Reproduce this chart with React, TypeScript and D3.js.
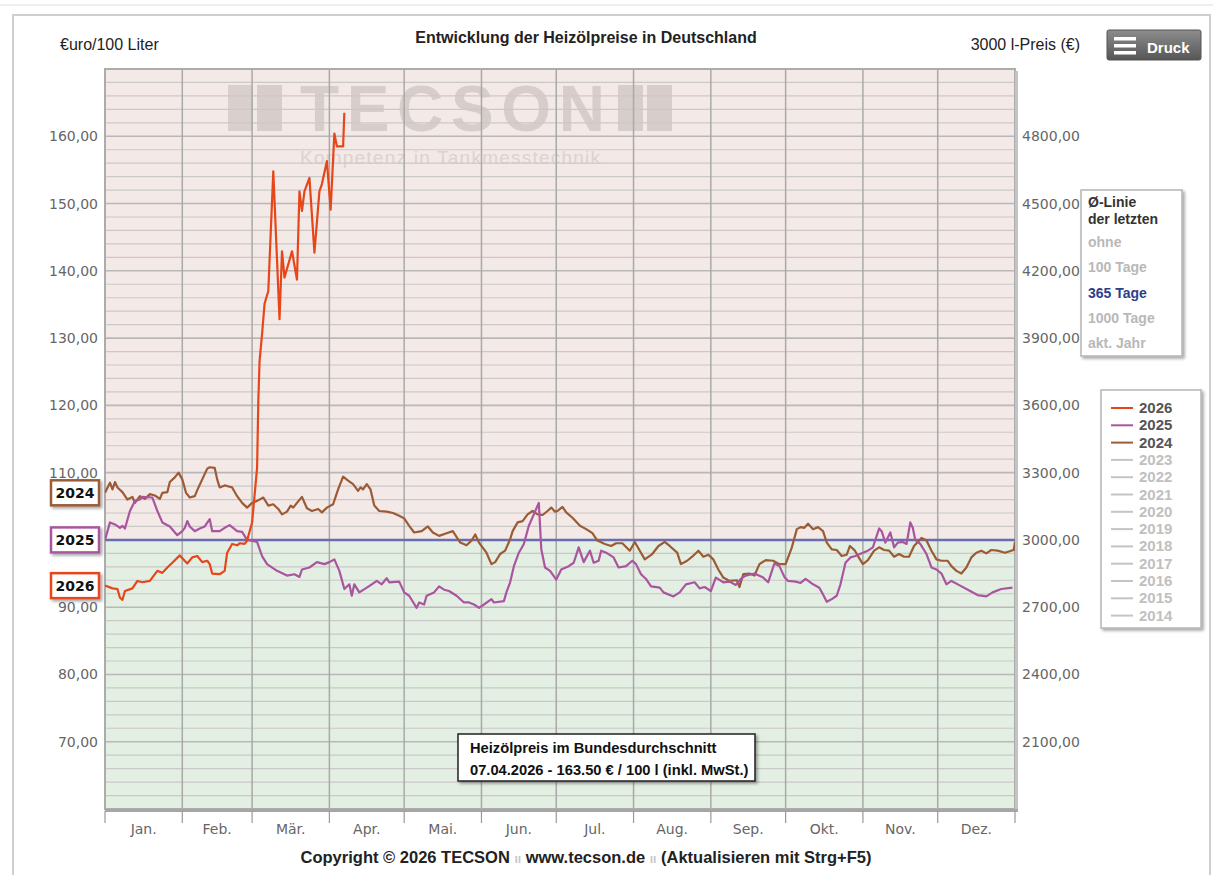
import React from "react";
import * as d3 from "d3";

// month labels for the x axis
const months = ["Jan.", "Feb.", "Mär.", "Apr.", "Mai.", "Jun.", "Jul.", "Aug.", "Sep.", "Okt.", "Nov.", "Dez."];

// left axis (€/100 l) and right axis (3000 l price); 100,00 sits under the 2025 box
const leftTicks = [70, 80, 90, 110, 120, 130, 140, 150, 160];
const rightTicks = [2100, 2400, 2700, 3000, 3300, 3600, 3900, 4200, 4500, 4800];

const avgOptions = ["ohne", "100 Tage", "365 Tage", "1000 Tage", "akt. Jahr"];
const activeAvg = "365 Tage";
const avgValue = 100;

const legendYears = ["2026", "2025", "2024", "2023", "2022", "2021", "2020", "2019", "2018", "2017", "2016", "2015", "2014"];

// [day of year, €/100 l]
const series2026: [number, number][] = [
  [0, 93.2], [3, 92.8], [5, 92.7], [6, 91.4], [7, 91.1], [8, 92.4], [11, 92.8], [13, 93.9], [15, 93.7],
  [18, 93.9], [20, 94.9], [21, 95.4], [23, 95.1], [25, 95.9], [27, 96.6], [30, 97.7], [33, 96.5],
  [35, 97.4], [37, 97.6], [39, 96.7], [41, 96.9], [42, 96.4], [43, 95.0], [46, 94.9], [48, 95.4],
  [49, 98.1], [51, 99.4], [53, 99.2], [54, 99.5], [56, 99.4], [57, 99.9], [59, 102.6], [61, 110.7],
  [61.5, 120.7], [62, 126.6], [63, 130.6], [64, 135.1], [65.5, 137.0], [67.5, 154.8], [70, 132.8],
  [71, 142.9], [72, 139.0], [75, 142.9], [77, 138.7], [78, 151.8], [79, 148.9], [80, 151.8],
  [82, 153.8], [84, 142.7], [86, 151.8], [87, 152.9], [89, 156.3], [90.5, 149.1], [92, 160.4],
  [93, 158.5], [95.5, 158.5], [96, 163.5],
];

const series2025: [number, number][] = [
  [0, 100.0], [2, 102.6], [4, 102.3], [6, 101.8], [7, 102.1], [8, 101.7], [10, 104.3], [12, 105.8],
  [14, 106.0], [15, 106.4], [19, 106.3], [21, 104.3], [23, 102.6], [26, 102.0], [29, 100.7], [31, 101.3],
  [32, 101.8], [33, 102.8], [34, 102.0], [36, 101.3], [38, 101.7], [40, 102.0], [42, 103.1], [43, 101.3],
  [46, 101.3], [48, 101.8], [50, 102.2], [53, 101.3], [55, 101.2], [57, 100.0], [61, 99.7], [63, 97.6],
  [65, 96.4], [69, 95.4], [73, 94.7], [76, 94.9], [78, 94.5], [79, 95.6], [82, 95.9], [85, 96.7],
  [88, 96.4], [90, 96.7], [92, 97.1], [94, 95.4], [96, 92.7], [98, 93.4], [99, 91.7], [100, 93.4],
  [102, 92.2], [105, 92.9], [107, 93.4], [109, 93.9], [111, 93.4], [113, 94.3], [114, 93.7], [118, 93.8],
  [120, 92.2], [122, 91.7], [125, 89.9], [126, 90.7], [128, 90.4], [129, 91.7], [132, 92.2], [134, 93.1],
  [136, 92.6], [138, 92.4], [141, 91.7], [144, 90.7], [146, 90.7], [148, 90.4], [150, 89.9], [152, 90.4],
  [155, 91.2], [156, 90.7], [160, 90.9], [161, 92.2], [162.5, 93.7], [164, 96.1], [166, 98.1], [168, 99.4],
  [170, 102.1], [172, 103.8], [174, 105.5], [175, 98.6], [176.5, 95.9], [178.5, 95.4], [181, 94.1],
  [183, 95.6], [186, 96.1], [188, 96.6], [190, 98.9], [192, 96.7], [194.5, 98.4], [196, 96.6], [198, 96.9],
  [199, 98.4], [201, 98.1], [204, 97.4], [206, 95.9], [209, 96.1], [211.5, 96.9], [213, 96.4], [215, 94.9],
  [217, 94.2], [219, 93.1], [222.5, 92.9], [224, 92.2], [228, 91.6], [230.5, 92.2], [233, 93.4],
  [236.5, 93.7], [238.5, 92.8], [240.5, 93.0], [243, 92.4], [245, 94.4], [248, 93.7], [250.5, 93.8],
  [253, 93.3], [255, 94.2], [257, 94.7], [260.5, 95.0], [264, 94.4], [266, 93.7], [268.5, 96.5],
  [270.5, 96.1], [272.5, 94.5], [274, 93.9], [277, 93.8], [279, 93.6], [281, 94.2], [284, 93.4],
  [286.5, 92.9], [288, 91.9], [289.5, 90.8], [291.5, 91.2], [293.5, 91.7], [295, 93.4], [297, 96.6],
  [299, 97.4], [301, 97.6], [303.5, 98.0], [306, 98.4], [308, 98.9], [310.5, 101.7], [311.5, 101.3],
  [313, 99.6], [315, 101.1], [316.5, 98.9], [318, 99.6], [320, 99.7], [321.5, 99.4], [323, 102.6],
  [324, 101.8], [325, 100.0], [327, 99.4], [329.5, 97.9], [331.5, 95.9], [333.5, 95.6], [335.5, 95.0],
  [337.5, 93.4], [339.5, 93.9], [343, 93.2], [347, 92.4], [350, 91.8], [353.5, 91.6], [356, 92.2],
  [359.5, 92.7], [364, 92.9],
];

const series2024: [number, number][] = [
  [0, 107.0], [2, 108.5], [3, 107.5], [4, 108.6], [5, 107.8], [7, 107.1], [9, 106.0], [11, 106.4],
  [12, 105.5], [14, 106.5], [16, 106.1], [18, 106.8], [20, 106.6], [22, 106.1], [23, 107.0], [25, 107.1],
  [26, 108.6], [28, 109.3], [29.5, 110.0], [31, 109.0], [32.5, 107.0], [34, 106.3], [36, 106.5],
  [37.5, 107.8], [39, 109.0], [41, 110.6], [42, 110.8], [44, 110.7], [45, 109.0], [46, 107.8], [48, 108.1],
  [50, 107.9], [51, 107.8], [53, 106.5], [55, 105.5], [57, 104.8], [59, 105.5], [61, 105.8], [63.5, 106.3],
  [65.5, 105.1], [67.5, 105.3], [69.5, 104.6], [71, 103.8], [73, 104.2], [74.5, 105.1], [75.5, 104.8],
  [77, 105.5], [79, 106.4], [81, 104.7], [83, 104.3], [85.5, 104.6], [87, 104.1], [89, 104.8],
  [91.5, 105.3], [93.5, 107.5], [95.5, 109.4], [97.5, 108.8], [99.5, 108.3], [101.5, 107.3],
  [102.5, 107.8], [103.5, 107.5], [105, 108.3], [106.5, 107.5], [108, 105.1], [110, 104.3], [113, 104.2],
  [115.5, 104.0], [118, 103.6], [120, 103.2], [122, 102.1], [124, 101.1], [127, 101.3], [129.5, 102.0],
  [131.5, 101.1], [134, 100.6], [137, 101.0], [139.5, 101.3], [142.5, 99.6], [145, 99.2], [147, 99.9],
  [148.5, 100.8], [150, 99.6], [153, 98.1], [155, 96.4], [156.5, 96.7], [158.5, 97.9], [160.5, 98.4],
  [162.5, 100.1], [163.5, 101.3], [165.5, 102.6], [167.5, 102.8], [169.5, 103.8], [171.5, 104.3],
  [173.5, 103.8], [175.5, 103.7], [177.5, 104.3], [179, 104.8], [180.5, 104.2], [181.5, 104.3],
  [183.5, 104.9], [185, 104.1], [187.5, 103.3], [190.5, 102.1], [193, 101.6], [195.5, 101.0],
  [197.5, 99.9], [200.5, 99.4], [203, 99.1], [205, 99.5], [207.5, 99.5], [210.5, 98.4], [212.5, 99.7],
  [214.5, 98.4], [216.5, 97.1], [219.5, 97.9], [222, 99.1], [224.5, 99.7], [226.5, 99.1], [229.5, 98.1],
  [231, 96.4], [233.5, 96.9], [235.5, 97.5], [238, 98.4], [240, 97.5], [242, 97.8], [244, 97.1],
  [246, 95.6], [248, 94.4], [250.5, 93.9], [253.5, 94.0], [254.5, 93.0], [256, 94.9], [258.5, 95.0],
  [260.5, 94.7], [262.5, 96.4], [265, 97.0], [268, 96.9], [270.5, 96.4], [273, 96.4], [275.5, 98.9],
  [277.5, 101.6], [279, 101.9], [280.5, 101.8], [282, 102.4], [284, 101.6], [286, 101.9], [288, 101.3],
  [289.5, 99.6], [291.5, 98.6], [293.5, 98.5], [295.5, 97.6], [297.5, 97.8], [298.8, 99.1], [300.8, 98.4],
  [302, 97.6], [304, 96.4], [306, 97.0], [308.5, 98.4], [310.5, 98.9], [312.5, 98.5], [314.5, 98.4],
  [316.5, 97.5], [318.5, 97.9], [320.5, 97.5], [322.5, 97.5], [324.5, 99.1], [327.5, 100.3], [329.5, 99.9],
  [331.5, 98.4], [333.5, 97.1], [335.5, 96.9], [338, 96.9], [339.5, 96.1], [341.5, 95.4], [343.5, 95.0],
  [345.5, 95.9], [347.5, 97.4], [349.5, 98.1], [351.5, 98.4], [353.5, 98.0], [355.5, 98.5],
  [358, 98.4], [361, 98.1], [363.5, 98.4], [364.5, 98.5], [365, 99.7],
];

const lines = [
  { year: "2024", data: series2024, color: "#9c5b36" },
  { year: "2025", data: series2025, color: "#a9559f" },
  { year: "2026", data: series2026, color: "#e6461a" },
];

const legendColors: Record<string, string> = { "2026": "#e6461a", "2025": "#a9559f", "2024": "#9c5b36" };

const W = 1213;
const H = 875;
const plot = { left: 105, right: 1015, top: 69, bottom: 809 };
const sans = "'Liberation Sans', Arial, sans-serif";
const tickFont = "'DejaVu Sans', Verdana, sans-serif";

const start = new Date(Date.UTC(2026, 0, 1));
const end = new Date(Date.UTC(2027, 0, 1));

export default function App() {
  const x = d3.scaleUtc().domain([start, end]).range([plot.left, plot.right]);
  const y = d3.scaleLinear().domain([60, 170]).range([plot.bottom, plot.top]);
  const yR = d3.scaleLinear().domain([1800, 5100]).range([plot.bottom, plot.top]);

  const monthStarts = d3.utcMonth.range(start, end);
  const bounds = [...monthStarts, end];
  const minor = d3.range(62, 170, 2).filter(v => v % 10 !== 0);
  const major = d3.range(70, 170, 10);

  const line = d3.line<[number, number]>()
    .x(d => x(d3.utcHour.offset(start, d[0] * 24)))
    .y(d => y(d[1]));

  const fmt = (v: number) => v.toFixed(2).replace(".", ",");

  return (
    <div style={{ position: "absolute", left: 0, top: 0 }}>
      <svg width={W} height={H} style={{ display: "block", background: "#fff" }}>
        <defs>
          <filter id="shadow" x="-20%" y="-20%" width="150%" height="160%">
            <feDropShadow dx="2" dy="2" stdDeviation="1.5" floodColor="#000" floodOpacity="0.35" />
          </filter>
          <linearGradient id="btn" x1="0" y1="0" x2="0" y2="1">
            <stop offset="0" stopColor="#8d8d8d" />
            <stop offset="1" stopColor="#565656" />
          </linearGradient>
          <clipPath id="plotClip">
            <rect x={plot.left} y={plot.top} width={plot.right - plot.left} height={plot.bottom - plot.top} />
          </clipPath>
        </defs>

        {/* outer frame */}
        <line x1={0} x2={W} y1={5} y2={5} stroke="#eeeeee" strokeWidth={2} />
        <path d={`M13,${H} V15 H1210 V${H}`} fill="none" stroke="#cfcfcf" strokeWidth={2} />

        {/* headings */}
        <text x={60} y={50} fontFamily={sans} fontSize={16} fill="#222">€uro/100 Liter</text>
        <text x={586} y={43} textAnchor="middle" fontFamily={sans} fontSize={16} fontWeight="bold" fill="#222">
          Entwicklung der Heizölpreise in Deutschland
        </text>
        <text x={1080} y={50} textAnchor="end" fontFamily={sans} fontSize={16} fill="#222">3000 l-Preis (€)</text>

        {/* Druck button */}
        <g>
          <rect x={1107} y={30} width={94} height={30} rx={2} fill="url(#btn)" stroke="#555" />
          {[37, 44, 51].map(v => (
            <rect key={v} x={1114} y={v} width={22} height={3.5} fill="#fff" />
          ))}
          <text x={1147} y={53} fontFamily={sans} fontSize={15} fontWeight="bold" fill="#fff">Druck</text>
        </g>

        {/* plot background */}
        <rect x={plot.left} y={plot.top} width={plot.right - plot.left} height={y(avgValue) - plot.top} fill="#f3e9e7" />
        <rect x={plot.left} y={y(avgValue)} width={plot.right - plot.left} height={plot.bottom - y(avgValue)} fill="#e3efe2" />

        {/* watermark */}
        <g fill="#d3cac8" opacity={0.85}>
          <rect x={228} y={85} width={25} height={46} />
          <rect x={257} y={85} width={25} height={46} />
          <rect x={618} y={85} width={25} height={46} />
          <rect x={647} y={85} width={25} height={46} />
          <text x={300} y={131} fontFamily={sans} fontWeight="bold" fontSize={64} textLength={305} lengthAdjust="spacing">TECSON</text>
        </g>
        <text x={300} y={164} fontFamily={sans} fontSize={19} fill="#ddd2d0" textLength={300} lengthAdjust="spacing">
          Kompetenz in Tankmesstechnik
        </text>

        {/* grid */}
        {minor.map(v => (
          <line key={"m" + v} x1={plot.left} x2={plot.right} y1={y(v)} y2={y(v)} stroke="#cbc8c8" strokeWidth={1.2} />
        ))}
        {major.map(v => (
          <line key={"M" + v} x1={plot.left} x2={plot.right} y1={y(v)} y2={y(v)} stroke="#b9b7b7" strokeWidth={1.6} />
        ))}
        {monthStarts.slice(1).map(d => (
          <line key={"v" + d.getTime()} x1={x(d)} x2={x(d)} y1={plot.top} y2={plot.bottom} stroke="#a9a9a9" strokeWidth={1.5} />
        ))}

        {/* plot frame */}
        <rect x={plot.left} y={plot.top} width={plot.right - plot.left} height={plot.bottom - plot.top} fill="none" stroke="#acacac" strokeWidth={2} />
        <line x1={plot.right + 1.5} x2={plot.right + 1.5} y1={plot.top + 2} y2={plot.bottom + 2} stroke="#c4c4c4" strokeWidth={3} />
        <line x1={plot.left} x2={plot.right + 3} y1={plot.bottom + 1.5} y2={plot.bottom + 1.5} stroke="#a6a6a6" strokeWidth={3} />

        {/* average line */}
        <line x1={plot.left} x2={plot.right} y1={y(avgValue)} y2={y(avgValue)} stroke="#6a6cb0" strokeWidth={2.5} />

        {/* series */}
        <g clipPath="url(#plotClip)">
          {lines.map(s => (
            <path key={s.year} d={line(s.data) || ""} fill="none" stroke={s.color} strokeWidth={2.2} strokeLinejoin="round" />
          ))}
        </g>

        {/* left axis */}
        {leftTicks.map(v => (
          <text key={"l" + v} x={98} y={y(v) + 5} textAnchor="end" fontFamily={tickFont} fontSize={14} fill="#666">{fmt(v)}</text>
        ))}
        {/* right axis */}
        {rightTicks.map(v => (
          <text key={"r" + v} x={1022} y={yR(v) + 5} fontFamily={tickFont} fontSize={14} fill="#666">{fmt(v)}</text>
        ))}

        {/* x axis */}
        {bounds.map(d => (
          <line key={"t" + d.getTime()} x1={x(d)} x2={x(d)} y1={plot.bottom + 2} y2={plot.bottom + 14} stroke="#999" strokeWidth={1.2} />
        ))}
        {monthStarts.map((d, i) => (
          <text key={"x" + i} x={(x(d) + x(bounds[i + 1])) / 2} y={834} textAnchor="middle" fontFamily={tickFont} fontSize={14} fill="#666">
            {months[i]}
          </text>
        ))}

        {/* year boxes at first value */}
        {lines.map(s => {
          const cy = y(s.data[0][1]);
          return (
            <g key={"b" + s.year}>
              <rect x={51} y={cy - 12.5} width={48} height={25} fill="#fff" stroke={s.color} strokeWidth={2.5} filter="url(#shadow)" />
              <text x={75} y={cy + 5} textAnchor="middle" fontFamily={tickFont} fontWeight="bold" fontSize={14} fill="#111">{s.year}</text>
            </g>
          );
        })}

        {/* Ø-Linie box */}
        <rect x={1081} y={190} width={101} height={166} fill="#fff" stroke="#b5b5b5" strokeWidth={1.5} filter="url(#shadow)" />
        <text x={1088} y={207} fontFamily={sans} fontWeight="bold" fontSize={14} fill="#333">Ø-Linie</text>
        <text x={1088} y={224} fontFamily={sans} fontWeight="bold" fontSize={14} fill="#333">der letzten</text>
        {avgOptions.map((o, i) => (
          <text key={o} x={1088} y={247 + i * 25.3} fontFamily={sans} fontWeight="bold" fontSize={14}
            fill={o === activeAvg ? "#2d3f8c" : "#b8b8b8"}>{o}</text>
        ))}

        {/* year legend */}
        <rect x={1101} y={390} width={100} height={238} fill="#fff" stroke="#b5b5b5" strokeWidth={1.5} filter="url(#shadow)" />
        {legendYears.map((yr, i) => {
          const ly = 408 + i * 17.3;
          const c = legendColors[yr];
          return (
            <g key={yr}>
              <line x1={1111} x2={1133} y1={ly} y2={ly} stroke={c || "#c4c4c4"} strokeWidth={2} />
              <text x={1139} y={ly + 5} fontFamily={sans} fontWeight="bold" fontSize={15} fill={c ? "#555" : "#c0c0c0"}>{yr}</text>
            </g>
          );
        })}

        {/* info box */}
        <rect x={458} y={734} width={297} height={47} fill="#fff" stroke="#222" strokeWidth={1.5} filter="url(#shadow)" />
        <text x={470} y={753} fontFamily={sans} fontWeight="bold" fontSize={14.7} fill="#111">Heizölpreis im Bundesdurchschnitt</text>
        <text x={470} y={775} fontFamily={sans} fontWeight="bold" fontSize={14.7} fill="#111">07.04.2026 - 163.50 € / 100 l (inkl. MwSt.)</text>

        {/* footer */}
        <text x={586} y={863} textAnchor="middle" fontFamily={sans} fontWeight="bold" fontSize={16.5} fill="#222">
          Copyright © 2026 TECSON <tspan fill="#c8c8c8" fontSize={12}>ıı</tspan> www.tecson.de <tspan fill="#c8c8c8" fontSize={12}>ıı</tspan> (Aktualisieren mit Strg+F5)
        </text>
      </svg>
    </div>
  );
}
